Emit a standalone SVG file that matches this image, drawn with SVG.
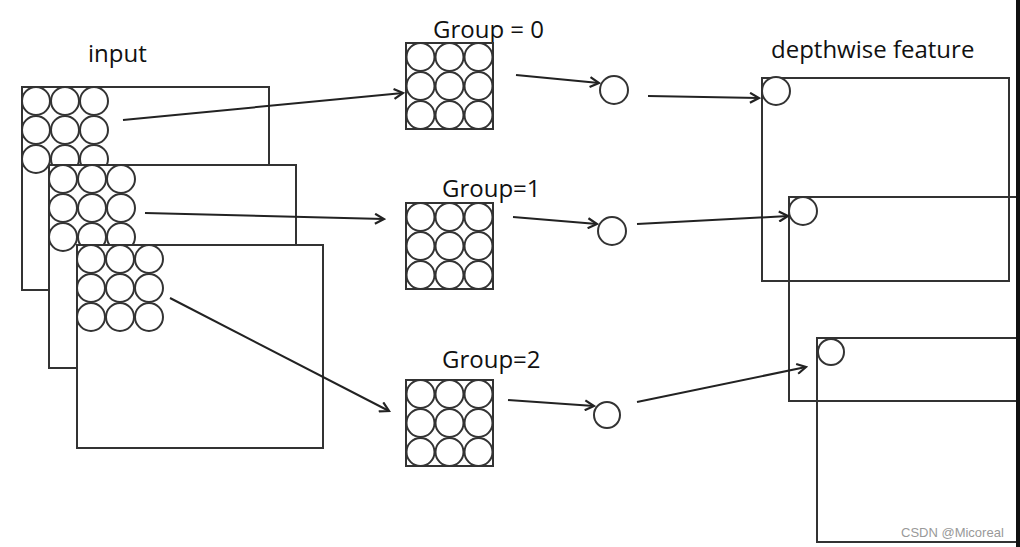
<svg xmlns="http://www.w3.org/2000/svg" width="1020" height="547" viewBox="0 0 1020 547">
<style>
.frame{fill:#fff;stroke:#333;stroke-width:2}
.open{fill:none;stroke:#333;stroke-width:2}
.c{fill:#fff;stroke:#333;stroke-width:2}
.lbl{font-family:"Open Sans","Liberation Sans",sans-serif;font-size:24px;fill:#111}
.conn line{stroke:#222;stroke-width:2;marker-end:url(#arr)}
.wm{font-family:"Liberation Sans",Arial,sans-serif;font-size:13px;fill:#999}
</style>
<defs>
<marker id="arr" markerWidth="12" markerHeight="12" refX="10" refY="6" orient="auto" markerUnits="userSpaceOnUse">
<path d="M1,1 L10,6 L1,11" fill="none" stroke="#222" stroke-width="2.2"/>
</marker>
<g id="grid">
<circle class="c" cx="14" cy="14" r="14"/><circle class="c" cx="43" cy="14" r="14"/><circle class="c" cx="72" cy="14" r="14"/>
<circle class="c" cx="14" cy="43" r="14"/><circle class="c" cx="43" cy="43" r="14"/><circle class="c" cx="72" cy="43" r="14"/>
<circle class="c" cx="14" cy="72" r="14"/><circle class="c" cx="43" cy="72" r="14"/><circle class="c" cx="72" cy="72" r="14"/>
</g>
</defs>
<rect width="1020" height="547" fill="#fff"/>

<g id="input">
<text class="lbl" x="88" y="62">input</text>
<g id="input-0"><rect class="frame" x="22" y="87" width="247" height="203"/><use href="#grid" x="22" y="87"/></g>
<g id="input-1"><rect class="frame" x="49" y="165" width="247" height="203"/><use href="#grid" x="49" y="165"/></g>
<g id="input-2"><rect class="frame" x="77" y="245" width="246" height="203"/><use href="#grid" x="77" y="245"/></g>
</g>

<g id="kernel-0">
<text class="lbl" x="433" y="38">Group = 0</text>
<rect class="frame" x="406" y="43" width="87" height="86"/><use href="#grid" x="406.5" y="43"/>
</g>
<g id="kernel-1">
<text class="lbl" x="442" y="197">Group=1</text>
<rect class="frame" x="406" y="203" width="87" height="86"/><use href="#grid" x="406.5" y="203"/>
</g>
<g id="kernel-2">
<text class="lbl" x="442" y="368">Group=2</text>
<rect class="frame" x="406" y="380" width="87" height="86"/><use href="#grid" x="406.5" y="380"/>
</g>

<g id="out-0"><circle class="c" cx="614" cy="90" r="14"/></g>
<g id="out-1"><circle class="c" cx="612" cy="231" r="14"/></g>
<g id="out-2"><circle class="c" cx="607" cy="415" r="13"/></g>

<g id="feature">
<text class="lbl" x="771" y="58">depthwise feature</text>
<g id="feature-0"><rect class="open" x="762" y="78" width="247" height="203"/><circle class="c" cx="776" cy="91" r="14"/></g>
<g id="feature-1"><rect class="open" x="789" y="197" width="240" height="204"/><circle class="c" cx="803" cy="211" r="14"/></g>
<g id="feature-2"><rect class="open" x="817" y="338" width="212" height="204"/><circle class="c" cx="831" cy="352" r="13"/></g>
</g>

<g id="connectors" class="conn">
<line x1="123" y1="120" x2="403" y2="93"/>
<line x1="145" y1="213" x2="384" y2="219"/>
<line x1="170" y1="298" x2="389" y2="411"/>
<line x1="516" y1="75" x2="599" y2="83"/>
<line x1="513" y1="217" x2="597" y2="224"/>
<line x1="508" y1="400" x2="594" y2="406"/>
<line x1="648" y1="96" x2="759" y2="98"/>
<line x1="637" y1="224" x2="788" y2="216"/>
<line x1="637" y1="402" x2="806" y2="367"/>
</g>

<text class="wm" x="901" y="537">CSDN @Micoreal</text>
<rect x="1016" y="0" width="4" height="547" fill="#111"/>
</svg>
